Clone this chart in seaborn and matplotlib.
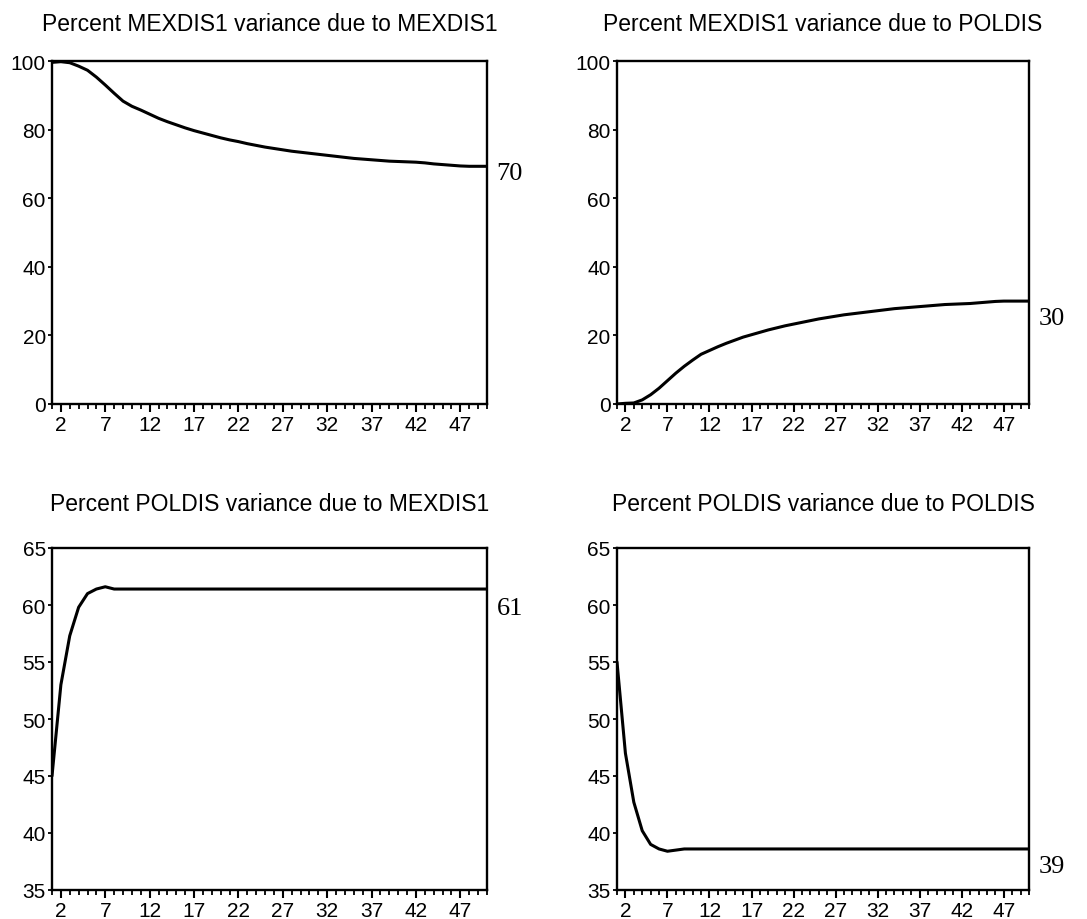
import matplotlib
matplotlib.use("Agg")
import matplotlib.pyplot as plt
import seaborn as sns
import pandas as pd
from matplotlib.ticker import FixedLocator

# ---------------- data ----------------
periods = list(range(1, 51))

mex_due_mex = [99.6, 99.8, 99.5, 98.5, 97.3, 95.3, 93.0, 90.6, 88.3, 86.8,
               85.7, 84.5, 83.3, 82.3, 81.4, 80.5, 79.7, 79.0, 78.3, 77.6,
               77.0, 76.5, 75.9, 75.4, 74.9, 74.5, 74.1, 73.7, 73.4, 73.1,
               72.8, 72.5, 72.2, 71.9, 71.6, 71.4, 71.2, 71.0, 70.8, 70.7,
               70.6, 70.5, 70.3, 70.0, 69.8, 69.6, 69.4, 69.3, 69.3, 69.3]

mex_due_pol = [0.0, 0.2, 0.3, 1.2, 2.7, 4.6, 6.8, 9.0, 11.0, 12.8,
               14.5, 15.6, 16.7, 17.7, 18.6, 19.5, 20.2, 20.9, 21.6, 22.2,
               22.8, 23.3, 23.8, 24.3, 24.8, 25.2, 25.6, 26.0, 26.3, 26.6,
               26.9, 27.2, 27.5, 27.8, 28.0, 28.2, 28.4, 28.6, 28.8, 29.0,
               29.1, 29.2, 29.3, 29.5, 29.7, 29.9, 30.0, 30.0, 30.0, 30.0]

pol_due_mex = [45.0, 53.0, 57.3, 59.8, 61.0, 61.4, 61.6, 61.4, 61.4, 61.4,
               61.4, 61.4, 61.4, 61.4, 61.4, 61.4, 61.4, 61.4, 61.4, 61.4,
               61.4, 61.4, 61.4, 61.4, 61.4, 61.4, 61.4, 61.4, 61.4, 61.4,
               61.4, 61.4, 61.4, 61.4, 61.4, 61.4, 61.4, 61.4, 61.4, 61.4,
               61.4, 61.4, 61.4, 61.4, 61.4, 61.4, 61.4, 61.4, 61.4, 61.4]

pol_due_pol = [55.0, 47.0, 42.7, 40.2, 39.0, 38.6, 38.4, 38.5, 38.6, 38.6,
               38.6, 38.6, 38.6, 38.6, 38.6, 38.6, 38.6, 38.6, 38.6, 38.6,
               38.6, 38.6, 38.6, 38.6, 38.6, 38.6, 38.6, 38.6, 38.6, 38.6,
               38.6, 38.6, 38.6, 38.6, 38.6, 38.6, 38.6, 38.6, 38.6, 38.6,
               38.6, 38.6, 38.6, 38.6, 38.6, 38.6, 38.6, 38.6, 38.6, 38.6]

titles = ["Percent MEXDIS1 variance due to MEXDIS1",
          "Percent MEXDIS1 variance due to POLDIS",
          "Percent POLDIS variance due to MEXDIS1",
          "Percent POLDIS variance due to POLDIS"]
end_labels = ["70", "30", "61", "39"]
y_ticks_top = [0, 20, 40, 60, 80, 100]
y_ticks_bottom = [35, 40, 45, 50, 55, 60, 65]
x_tick_labels = [2, 7, 12, 17, 22, 27, 32, 37, 42, 47]

# ---------------- style ----------------
sns.set_theme(style="ticks")
plt.rcParams["font.family"] = ["Liberation Sans", "DejaVu Sans"]

fig = plt.figure(figsize=(10.87, 9.2), dpi=100)

W, H = 1087.0, 920.0
def rect(x0, x1, y0, y1):
    return [x0 / W, 1 - y1 / H, (x1 - x0) / W, (y1 - y0) / H]

rects = [rect(52, 487, 62, 405), rect(617, 1029, 62, 405),
         rect(52, 487, 549, 891), rect(617, 1029, 549, 891)]
series = [mex_due_mex, mex_due_pol, pol_due_mex, pol_due_pol]
yticks = [y_ticks_top, y_ticks_top, y_ticks_bottom, y_ticks_bottom]
title_pads = [22, 22, 27, 27]
label_dy = [-5, -12, -14, -12]

for i in range(4):
    ax = fig.add_axes(rects[i])
    df = pd.DataFrame({"period": periods, "value": series[i]})
    sns.lineplot(data=df, x="period", y="value", ax=ax, color="black",
                 linewidth=2.2)
    ax.set_xlim(1, 50)
    ax.set_ylim(yticks[i][0], yticks[i][-1])
    ax.set_xlabel("")
    ax.set_ylabel("")
    ax.set_yticks(yticks[i])
    ax.set_yticklabels([str(v) for v in yticks[i]])
    ax.xaxis.set_major_locator(FixedLocator(x_tick_labels))
    ax.set_xticklabels([str(v) for v in x_tick_labels])
    ax.xaxis.set_minor_locator(FixedLocator(periods))
    for s in ax.spines.values():
        s.set_visible(True)
        s.set_linewidth(1.7)
        s.set_color("black")
    ax.tick_params(axis="x", which="major", direction="out", length=6,
                   width=1.5, pad=2, labelsize=15, colors="black")
    ax.tick_params(axis="x", which="minor", direction="out", length=3.5,
                   width=1.3, colors="black")
    ax.tick_params(axis="y", which="major", direction="out", length=3,
                   width=1.3, pad=1.5, labelsize=15, colors="black")
    ax.set_title(titles[i], fontsize=16.5, pad=title_pads[i], color="black")
    ax.annotate(end_labels[i], xy=(1, series[i][-1]),
                xycoords=("axes fraction", "data"),
                xytext=(7, label_dy[i]), textcoords="offset points",
                ha="left", va="center", fontsize=19,
                family=["Liberation Serif", "DejaVu Serif"], color="black",
                annotation_clip=False)

fig.savefig("out.png", dpi=100, facecolor="white")
